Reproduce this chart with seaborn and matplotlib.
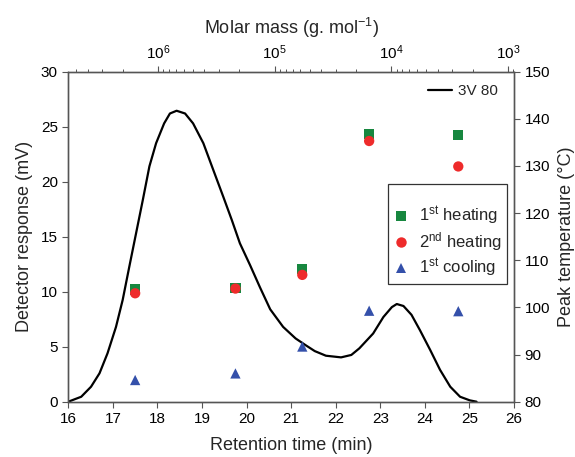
import numpy as np
import pandas as pd
import matplotlib
matplotlib.use("Agg")
import matplotlib.pyplot as plt
from matplotlib.lines import Line2D
from matplotlib.ticker import LogLocator, MultipleLocator, NullFormatter
import seaborn as sns

# ---- data ----
curve_time = [16.0, 16.29, 16.51, 16.70, 16.88, 17.07, 17.22, 17.37, 17.52, 17.67,
              17.82, 17.97, 18.15, 18.28, 18.43, 18.62, 18.80, 19.03, 19.25, 19.48,
              19.67, 19.85, 20.08, 20.30, 20.53, 20.82, 21.10, 21.32, 21.53, 21.78,
              22.12, 22.35, 22.53, 22.84, 23.07, 23.26, 23.37, 23.52, 23.70, 23.89,
              24.12, 24.34, 24.57, 24.79, 25.01, 25.16]
curve_signal = [0.0, 0.45, 1.36, 2.58, 4.4, 6.8, 9.25, 12.3, 15.3, 18.3,
                21.4, 23.5, 25.3, 26.2, 26.45, 26.2, 25.3, 23.5, 21.1, 18.6,
                16.5, 14.4, 12.4, 10.4, 8.4, 6.8, 5.75, 5.15, 4.6, 4.18,
                4.03, 4.25, 4.85, 6.2, 7.7, 8.6, 8.88, 8.7, 7.9, 6.5,
                4.7, 2.9, 1.36, 0.45, 0.12, 0.0]

sample_time = [17.5, 19.75, 21.25, 22.75, 24.75]
heat1 = [103.8, 104.1, 108.1, 136.8, 136.6]
heat2 = [103.0, 104.0, 106.9, 135.3, 129.9]
cool1 = [84.6, 86.0, 91.7, 99.3, 99.2]

series_labels = ["1$^{\\mathrm{st}}$ heating", "2$^{\\mathrm{nd}}$ heating", "1$^{\\mathrm{st}}$ cooling"]
series_colors = ["#17873f", "#ee2b2b", "#3450aa"]
series_markers = ["s", "o", "^"]

curve_label = "3V 80"
# calibration of molar mass axis: retention time of 10^6 g/mol, minutes per decade
t_at_1e6 = 18.01
min_per_decade = 2.617

sns.set_style("ticks")
plt.rcParams["font.family"] = ["Liberation Sans", "DejaVu Sans"]
plt.rcParams["mathtext.fontset"] = "custom"
plt.rcParams["mathtext.rm"] = "Liberation Sans"
plt.rcParams["mathtext.it"] = "Liberation Sans:italic"
plt.rcParams["axes.edgecolor"] = "#555555"
plt.rcParams["xtick.color"] = "#555555"
plt.rcParams["ytick.color"] = "#555555"
plt.rcParams["xtick.labelcolor"] = "black"
plt.rcParams["ytick.labelcolor"] = "black"

fig = plt.figure(figsize=(5.75, 4.57), dpi=100)
ax = fig.add_axes([68.3 / 575, 1 - 401.7 / 457, 445.7 / 575, 330 / 457])

df_curve = pd.DataFrame({"t": curve_time, "s": curve_signal})
sns.lineplot(data=df_curve, x="t", y="s", ax=ax, color="black", lw=1.6, legend=False)
ax.set_xlim(16, 26)
ax.set_ylim(0, 30)
ax.xaxis.set_major_locator(MultipleLocator(1))
ax.yaxis.set_major_locator(MultipleLocator(5))
ax.set_xlabel("Retention time (min)", fontsize=13, labelpad=8)
ax.set_ylabel("Detector response (mV)", fontsize=13, labelpad=6)
ax.tick_params(axis="both", labelsize=11, direction="out", length=4, width=0.8)
for sp in ax.spines.values():
    sp.set_linewidth(0.9)

# right axis
axr = ax.twinx()
for lab, col, mk, vals in zip(series_labels, series_colors, series_markers, [heat1, heat2, cool1]):
    d = pd.DataFrame({"t": sample_time, "T": vals})
    sns.scatterplot(data=d, x="t", y="T", ax=axr, color=col, marker=mk, s=55,
                    edgecolor="none", label=lab, legend=False)
axr.set_ylim(80, 150)
axr.yaxis.set_major_locator(MultipleLocator(10))
axr.set_ylabel("Peak temperature (°C)", fontsize=13, labelpad=6)
axr.set_xlabel("")
axr.tick_params(axis="y", labelsize=11, direction="out", length=4, width=0.8)

# top axis: molar mass (log, decreasing)
def mm(t):
    return 10 ** (6 - (t - t_at_1e6) / min_per_decade)

axt = ax.twiny()
axt.set_xscale("log")
axt.set_xlim(mm(16), mm(26))
axt.xaxis.set_major_locator(LogLocator(base=10))
axt.xaxis.set_minor_locator(LogLocator(base=10, subs=np.arange(2, 10)))
axt.xaxis.set_minor_formatter(NullFormatter())
axt.tick_params(axis="x", which="major", labelsize=11, direction="out", length=4, width=0.8, pad=3)
axt.tick_params(axis="x", which="minor", direction="out", length=2.5, width=0.7)
axt.set_xlabel("Molar mass (g. mol$^{-1}$)", fontsize=13, labelpad=7)
for a in (axr, axt):
    for sp in a.spines.values():
        sp.set_linewidth(0.9)

# legends
h_curve = [Line2D([0], [0], color="black", lw=1.6)]
leg1 = axt.legend(h_curve, [curve_label], loc="upper right", bbox_to_anchor=(0.985, 0.99),
                  frameon=False, fontsize=11, handlelength=1.6, handletextpad=0.4,
                  borderaxespad=0.2)
axt.add_artist(leg1)
h_pts = [Line2D([0], [0], ls="none", marker=mk, color=col, markersize=7.5, markeredgewidth=0)
         for col, mk in zip(series_colors, series_markers)]
leg2 = axt.legend(h_pts, series_labels, loc="upper right", bbox_to_anchor=(0.985, 0.659),
                  borderaxespad=0, fontsize=12, frameon=True, fancybox=False,
                  edgecolor="#333333", framealpha=1, handlelength=1.0, handletextpad=0.6,
                  labelspacing=0.2, borderpad=0.3, title=" ", title_fontsize=9)
leg2.get_frame().set_linewidth(0.9)

fig.savefig("out.png", dpi=100)
